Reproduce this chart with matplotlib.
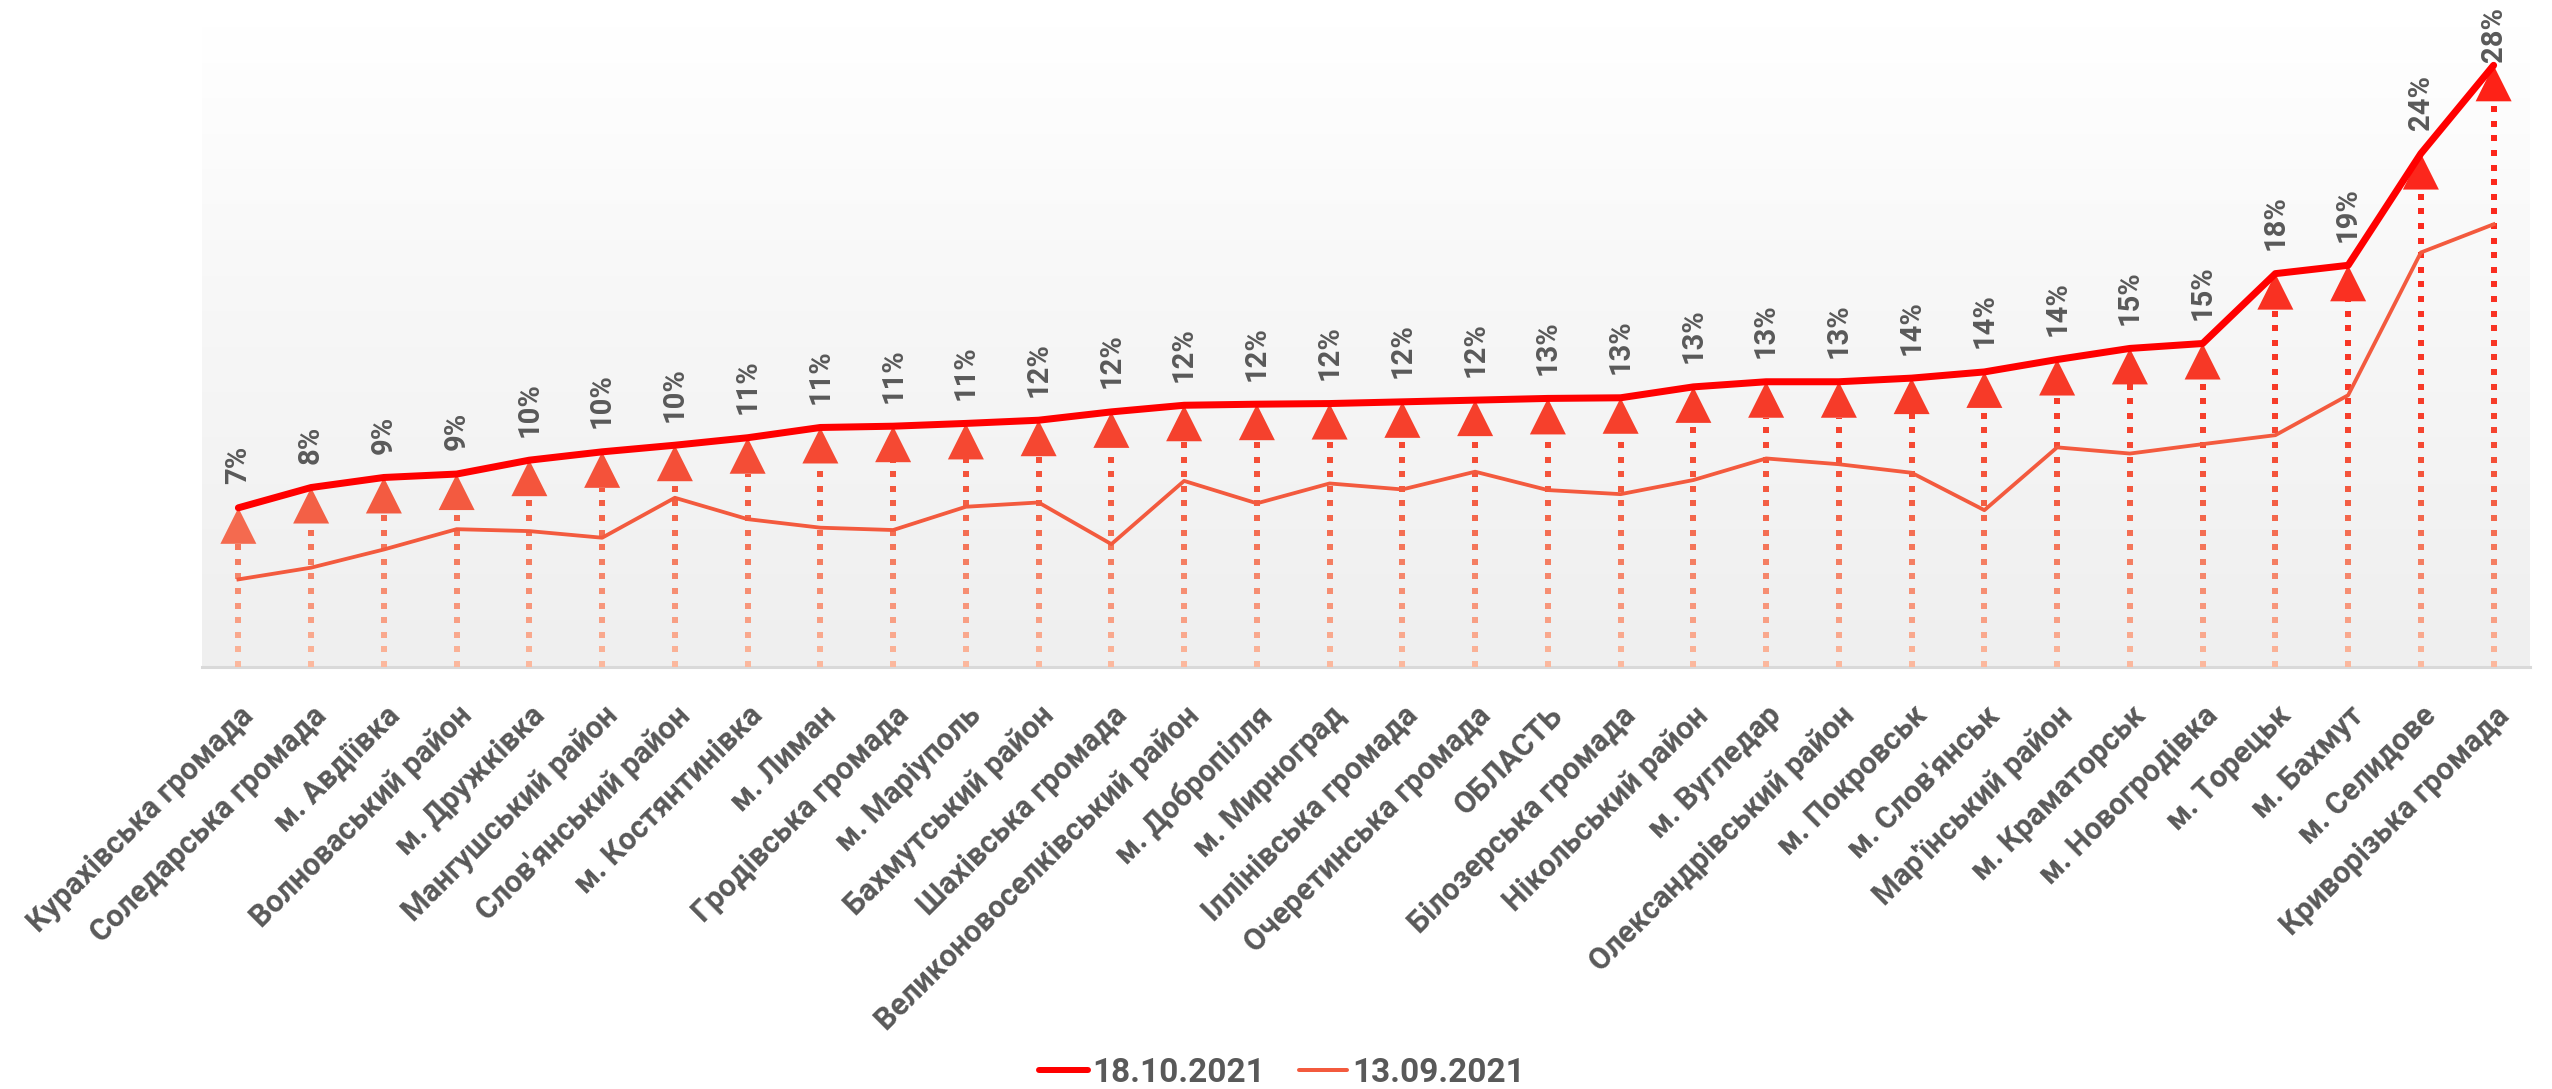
import numpy as np
import matplotlib
matplotlib.use('Agg')
from matplotlib import pyplot as plt
from matplotlib.collections import LineCollection
from matplotlib.colors import LinearSegmentedColormap
from matplotlib.lines import Line2D

plt.rcParams['font.family'] = ['Roboto', 'DejaVu Sans']
plt.rcParams['font.weight'] = 'bold'

categories = ['Курахівська громада', 'Соледарська громада', 'м. Авдіївка', 'Волноваський район',
              'м. Дружківка', 'Мангушський район', "Слов'янський район", 'м. Костянтинівка',
              'м. Лиман', 'Гродівська громада', 'м. Маріуполь', 'Бахмутський район',
              'Шахівська громада', 'Великоновоселківський район', 'м. Добропілля', 'м. Мирноград',
              'Іллінівська громада', 'Очеретинська громада', 'ОБЛАСТЬ', 'Білозерська громада',
              'Нікольський район', 'м. Вугледар', 'Олександрівський район', 'м. Покровськ',
              "м. Слов'янськ", "Мар'їнський район", 'м. Краматорськ', 'м. Новогродівка',
              'м. Торецьк', 'м. Бахмут', 'м. Селидове', 'Криворізька громада']

# 18.10.2021, %
oct_vals = [7.45, 8.40, 8.87, 9.03, 9.68, 10.07, 10.38, 10.73, 11.21, 11.27, 11.40, 11.55,
            11.94, 12.25, 12.30, 12.33, 12.41, 12.49, 12.57, 12.60, 13.11, 13.35, 13.35, 13.52,
            13.81, 14.39, 14.91, 15.14, 18.41, 18.80, 24.03, 28.16]
# 13.09.2021, %
sep_vals = [4.10, 4.65, 5.50, 6.45, 6.36, 6.05, 7.92, 6.92, 6.52, 6.41, 7.50, 7.70,
            5.75, 8.71, 7.66, 8.59, 8.31, 9.14, 8.28, 8.09, 8.75, 9.76, 9.49, 9.09,
            7.34, 10.28, 9.99, 10.43, 10.85, 12.72, 19.40, 20.72]

series_names = ['18.10.2021', '13.09.2021']

TXT = '#595959'
RED = '#ff0000'
ORANGE = '#f35a3e'
YMAX = 30

W, H, DPI = 2552, 1089, 100
fig = plt.figure(figsize=(W / DPI, H / DPI), dpi=DPI)
ax = fig.add_axes([202 / W, 1 - 667 / H, (2530 - 202) / W, (667 - 26) / H])

x = np.arange(len(categories))
ax.set_xlim(-0.5, len(categories) - 0.5)
ax.set_ylim(0, YMAX)

# background gradient of the plot area
bg = LinearSegmentedColormap.from_list('bg', ['#efefef', '#f6f6f6', '#ffffff'])
ax.imshow(np.linspace(0, 1, 256).reshape(-1, 1), cmap=bg, origin='lower',
          extent=[-0.5, len(categories) - 0.5, 0, YMAX], aspect='auto', zorder=0)

# arrows: dotted stems + triangle heads, colour by height
arr_cmap = LinearSegmentedColormap.from_list(
    'arr', [(0, '#fbb89e'), (5 / 30, '#f47a5e'), (8 / 30, '#f35a40'),
            (12 / 30, '#f63c29'), (20 / 30, '#fb2b1f'), (1, '#ff1e14')])

px_per_unit = (667 - 26) / YMAX
head_px = 36
head_h = head_px / px_per_unit
period = 14.6 / px_per_unit
dot = 6.0 / px_per_unit

segs, cols = [], []
for xi, v in zip(x, oct_vals):
    top = v - head_h
    for s in np.arange(0, top, period):
        segs.append([(xi, s), (xi, min(s + dot, top))])
        cols.append(arr_cmap(s / YMAX))
ax.add_collection(LineCollection(segs, colors=cols, linewidths=6 * 0.72, capstyle='butt', zorder=2))

head = [(0, 0), (-0.5, -1), (0.5, -1), (0, 0)]
ms = head_px * 0.72 * 2
ax.scatter(x, oct_vals, marker=head, s=ms ** 2, c=[arr_cmap((v - 1) / YMAX) for v in oct_vals],
           linewidths=0, zorder=3)

ax.plot(x, sep_vals, color=ORANGE, lw=3.8 * 0.72, zorder=4, solid_joinstyle='round')
ax.plot(x, oct_vals, color=RED, lw=7 * 0.72, zorder=5, solid_joinstyle='round',
        solid_capstyle='round')

# value labels
labels = []
for xi, v in zip(x, oct_vals):
    t = ax.annotate(f'{int(v + 0.5)}%', (xi, v), xytext=(0, 17), textcoords='offset points',
                    rotation=90, ha='center', va='bottom', fontsize=21, color=TXT,
                    fontweight='bold', zorder=6, annotation_clip=False)
    labels.append(t)

ax.set_xticks(x)
ax.set_xticklabels(categories, rotation=45, ha='right', va='top', rotation_mode='anchor',
                   fontsize=22, color=TXT, fontweight='bold')
ax.tick_params(axis='x', length=0, pad=24)
ax.set_yticks([])
for sp in ['top', 'left', 'right']:
    ax.spines[sp].set_visible(False)
ax.spines['bottom'].set_color('#d9d9d9')
ax.spines['bottom'].set_linewidth(2.2)
ax.spines['bottom'].set_zorder(1)

handles = [Line2D([], [], color=RED, lw=6 * 0.72, solid_capstyle='round'),
           Line2D([], [], color=ORANGE, lw=4 * 0.72, solid_capstyle='round')]
leg = fig.legend(handles, series_names, loc='center', bbox_to_anchor=(1282 / W, 1 - 1073 / H),
                 ncol=2, frameon=False, fontsize=24, handlelength=1.45, handletextpad=0.15,
                 columnspacing=1.0)
for t in leg.get_texts():
    t.set_color(TXT)
    t.set_fontweight('bold')

# keep labels inside the figure
fig.canvas.draw()
r = fig.canvas.get_renderer()
for t in labels:
    bb = t.get_window_extent(r)
    over = bb.y1 - (H - 7)
    if over > 0:
        ox, oy = t.xyann
        t.xyann = (ox, oy - over * 72 / DPI)

fig.savefig('out.png', dpi=DPI)
